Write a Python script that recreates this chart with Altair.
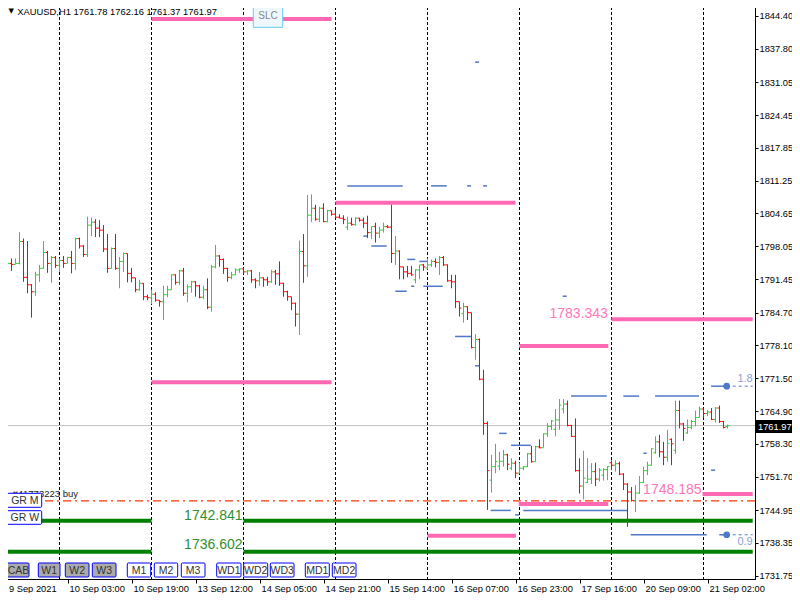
import altair as alt
import pandas as pd

# ---------------- data ----------------
OPEN = [1791.9, 1792.2, 1794.6, 1794.4, 1794.6, 1799.0, 1791.8, 1790.3, 1788.9, 1792.3,
        1793.6, 1796.8, 1794.6, 1795.8, 1794.2, 1795.2, 1794.6, 1795.8, 1794.6, 1799.6,
        1798.1, 1796.4, 1802.3, 1802.9, 1801.7, 1801.3, 1797.5, 1793.6, 1797.6, 1793.6,
        1795.0, 1796.6, 1792.6, 1791.7, 1789.3, 1790.6, 1787.9, 1787.7, 1788.4, 1787.2,
        1786.9, 1788.3, 1789.3, 1792.3, 1790.8, 1793.1, 1788.6, 1789.9, 1790.9, 1790.1,
        1787.8, 1789.3, 1785.8, 1793.9, 1796.1, 1795.4, 1793.6, 1791.8, 1792.3, 1793.3,
        1793.5, 1792.9, 1793.1, 1791.3, 1791.1, 1791.7, 1791.3, 1790.9, 1792.9, 1792.5,
        1790.6, 1788.9, 1787.9, 1786.6, 1784.4, 1797.0, 1794.1, 1804.3, 1805.7, 1803.5,
        1805.7, 1803.0, 1805.2, 1804.5, 1803.9, 1803.7, 1801.9, 1802.7, 1802.4, 1803.7,
        1803.3, 1802.7, 1800.8, 1802.0, 1800.7, 1801.3, 1802.0, 1801.9, 1796.6, 1797.1,
        1793.9, 1792.9, 1792.6, 1791.3, 1793.3, 1794.3, 1793.7, 1794.3, 1795.0, 1794.8,
        1795.8, 1794.3, 1791.1, 1790.9, 1786.9, 1784.5, 1785.9, 1784.7, 1777.7, 1779.3,
        1771.3, 1762.4, 1751.0, 1753.7, 1753.8, 1754.8, 1756.1, 1753.4, 1754.4, 1752.4,
        1753.4, 1753.7, 1756.3, 1754.7, 1757.7, 1757.5, 1760.3, 1761.8, 1761.2, 1763.1,
        1765.3, 1766.3, 1762.0, 1759.8, 1752.9, 1749.8, 1750.5, 1751.2, 1752.7, 1751.2,
        1752.0, 1753.1, 1754.5, 1754.0, 1754.3, 1752.2, 1750.2, 1748.6, 1746.9, 1748.4,
        1750.5, 1752.9, 1754.0, 1756.5, 1758.7, 1756.7, 1755.6, 1759.2, 1757.0, 1765.0,
        1762.3, 1760.5, 1761.6, 1762.8, 1763.6, 1765.3, 1764.4, 1764.7, 1763.2, 1765.5,
        1762.8, 1761.78]
HIGH = [1792.9, 1795.3, 1795.6, 1795.6, 1800.9, 1799.6, 1799.1, 1790.4, 1792.9, 1794.3,
        1799.1, 1797.1, 1796.1, 1796.1, 1795.6, 1796.1, 1795.9, 1797.1, 1799.8, 1799.8,
        1798.3, 1804.0, 1803.8, 1803.5, 1803.3, 1802.3, 1800.5, 1797.8, 1800.5, 1795.9,
        1796.8, 1796.6, 1793.7, 1791.7, 1791.3, 1790.6, 1788.3, 1789.3, 1788.8, 1787.2,
        1790.1, 1790.1, 1792.4, 1792.4, 1793.3, 1793.7, 1790.4, 1791.1, 1791.0, 1790.3,
        1790.1, 1791.6, 1794.3, 1798.3, 1796.3, 1795.6, 1793.7, 1792.9, 1793.6, 1793.6,
        1793.7, 1793.3, 1793.3, 1791.6, 1792.9, 1791.8, 1791.9, 1793.3, 1793.3, 1795.0,
        1790.7, 1789.1, 1787.9, 1786.7, 1799.2, 1800.5, 1808.4, 1808.5, 1806.4, 1806.0,
        1806.7, 1805.4, 1805.2, 1805.4, 1804.5, 1804.3, 1804.0, 1803.8, 1803.9, 1803.8,
        1803.8, 1804.2, 1802.0, 1802.8, 1802.0, 1802.8, 1802.3, 1806.4, 1800.1, 1797.2,
        1793.9, 1794.1, 1794.1, 1793.4, 1794.3, 1794.5, 1795.6, 1795.4, 1795.6, 1796.1,
        1796.1, 1794.4, 1792.3, 1792.3, 1786.9, 1786.7, 1786.0, 1784.7, 1780.4, 1779.5,
        1773.2, 1762.8, 1756.1, 1758.3, 1756.7, 1757.1, 1756.3, 1755.4, 1754.9, 1754.5,
        1753.8, 1756.4, 1757.9, 1757.9, 1759.2, 1760.4, 1762.5, 1763.1, 1765.3, 1767.3,
        1767.3, 1767.0, 1762.1, 1763.4, 1755.4, 1756.9, 1755.4, 1754.4, 1754.5, 1753.4,
        1753.4, 1753.8, 1755.0, 1755.0, 1754.7, 1752.4, 1750.4, 1749.6, 1750.0, 1751.8,
        1753.7, 1754.7, 1757.4, 1759.8, 1760.1, 1758.7, 1761.1, 1759.4, 1767.0, 1767.0,
        1762.5, 1763.2, 1763.1, 1765.0, 1765.8, 1765.4, 1765.1, 1765.5, 1765.7, 1766.0,
        1762.9, 1762.16]
LOW = [1787.7, 1791.9, 1793.1, 1794.4, 1794.4, 1790.9, 1788.6, 1783.7, 1788.1, 1790.9,
       1793.6, 1792.7, 1790.7, 1793.7, 1792.9, 1793.7, 1794.6, 1792.6, 1793.3, 1797.6,
       1795.9, 1795.9, 1800.1, 1799.9, 1799.9, 1796.9, 1792.7, 1793.6, 1793.3, 1789.6,
       1792.9, 1790.8, 1790.8, 1788.8, 1789.1, 1787.2, 1787.2, 1786.4, 1786.9, 1785.9,
       1783.2, 1787.8, 1789.3, 1790.3, 1790.3, 1788.1, 1786.8, 1788.7, 1787.9, 1787.6,
       1787.4, 1785.4, 1784.9, 1793.6, 1793.9, 1792.5, 1790.9, 1791.4, 1792.3, 1792.7,
       1792.5, 1792.3, 1790.7, 1789.6, 1790.1, 1789.9, 1790.1, 1790.7, 1790.3, 1790.1,
       1787.9, 1787.1, 1785.2, 1781.9, 1780.2, 1790.7, 1791.9, 1802.9, 1803.2, 1802.9,
       1802.9, 1802.9, 1804.2, 1803.7, 1803.7, 1802.5, 1801.3, 1802.2, 1802.2, 1803.0,
       1801.7, 1799.7, 1799.5, 1798.8, 1799.7, 1800.8, 1801.7, 1794.7, 1794.3, 1791.4,
       1791.4, 1791.8, 1792.1, 1790.6, 1791.4, 1793.1, 1793.4, 1793.9, 1793.8, 1792.3,
       1794.1, 1790.9, 1789.6, 1785.6, 1783.9, 1782.7, 1783.2, 1777.5, 1775.2, 1771.1,
       1760.1, 1745.0, 1748.5, 1752.4, 1753.0, 1753.7, 1753.0, 1753.0, 1751.4, 1752.3,
       1753.0, 1753.6, 1754.5, 1754.7, 1757.4, 1757.5, 1759.7, 1761.1, 1759.8, 1761.1,
       1764.4, 1761.8, 1759.7, 1752.7, 1748.3, 1747.1, 1750.4, 1750.2, 1749.8, 1750.7,
       1750.9, 1751.0, 1753.0, 1752.7, 1752.0, 1749.0, 1741.6, 1746.7, 1744.6, 1748.2,
       1750.4, 1752.0, 1753.9, 1756.3, 1755.6, 1754.0, 1754.7, 1754.0, 1756.3, 1761.4,
       1758.9, 1760.3, 1761.2, 1761.8, 1763.6, 1763.6, 1763.9, 1763.1, 1762.6, 1762.5,
       1761.4, 1761.37]
CLOSE = [1792.2, 1794.6, 1794.4, 1794.6, 1799.0, 1791.8, 1790.3, 1788.9, 1792.3, 1793.6,
         1796.8, 1794.6, 1795.8, 1794.2, 1795.2, 1794.6, 1795.8, 1794.6, 1799.6, 1798.1,
         1796.4, 1802.3, 1802.9, 1801.7, 1801.3, 1797.5, 1793.6, 1797.6, 1793.6, 1795.0,
         1796.6, 1792.6, 1791.7, 1789.3, 1790.6, 1787.9, 1787.7, 1788.4, 1787.2, 1786.9,
         1788.3, 1789.3, 1792.3, 1790.8, 1793.1, 1788.6, 1789.9, 1790.9, 1790.1, 1787.8,
         1789.3, 1785.8, 1793.9, 1796.1, 1795.4, 1793.6, 1791.8, 1792.3, 1793.3, 1793.5,
         1792.9, 1793.1, 1791.3, 1791.1, 1791.7, 1791.3, 1790.9, 1792.9, 1792.5, 1790.6,
         1788.9, 1787.9, 1786.6, 1784.4, 1797.0, 1794.1, 1804.3, 1805.7, 1803.5, 1805.7,
         1803.0, 1805.2, 1804.5, 1803.9, 1803.7, 1803.4, 1802.7, 1802.4, 1803.7, 1803.3,
         1802.7, 1800.8, 1802.0, 1800.7, 1801.3, 1802.0, 1801.9, 1796.6, 1797.1, 1793.9,
         1792.9, 1792.6, 1792.3, 1793.3, 1794.3, 1793.9, 1794.3, 1795.0, 1794.8, 1795.8,
         1794.3, 1791.1, 1790.9, 1786.9, 1785.6, 1785.9, 1784.7, 1777.7, 1779.3, 1771.3,
         1762.4, 1752.9, 1753.7, 1754.7, 1754.8, 1756.1, 1754.2, 1754.4, 1752.4, 1753.4,
         1753.7, 1756.3, 1754.7, 1757.7, 1757.5, 1760.3, 1761.8, 1762.9, 1763.1, 1766.1,
         1766.3, 1762.0, 1759.8, 1752.9, 1749.8, 1751.4, 1751.2, 1752.7, 1751.2, 1753.0,
         1753.1, 1753.7, 1754.0, 1754.3, 1752.2, 1750.2, 1748.6, 1746.9, 1748.4, 1750.5,
         1752.9, 1754.0, 1757.3, 1758.7, 1756.7, 1755.6, 1758.4, 1758.3, 1765.0, 1762.3,
         1761.4, 1761.6, 1762.8, 1763.6, 1765.3, 1764.4, 1764.7, 1763.2, 1765.5, 1762.8,
         1761.6, 1761.97]

X_TICK_BARS = [0, 16, 32, 48, 64, 80, 96, 112, 128, 144, 160, 176]
X_LABELS = ["9 Sep 2021", "10 Sep 03:00", "10 Sep 19:00", "13 Sep 12:00", "14 Sep 05:00",
            "14 Sep 21:00", "15 Sep 14:00", "16 Sep 07:00", "16 Sep 23:00", "17 Sep 16:00",
            "20 Sep 09:00", "21 Sep 02:00"]
Y_TICKS = [1844.40, 1837.80, 1831.05, 1824.45, 1817.85, 1811.25, 1804.65, 1798.05, 1791.45,
           1784.70, 1778.10, 1771.50, 1764.90, 1758.30, 1751.70, 1744.95, 1738.35, 1731.75]
DAY_SEPARATORS = [14, 37, 60, 83, 106, 129, 152, 175]

PINK_START = [37, 83, 37, 129, 152, 128.8, 106, 174.75]
PINK_END = [82, 128, 82, 151.2, 187.3, 151.2, 128.1, 187.3]
PINK_PRICE = [1843.8, 1806.8, 1770.7, 1778.0, 1783.343, 1746.2, 1739.8, 1748.185]

GREEN_START = [-0.375, 60, -0.375, 60]
GREEN_END = [37, 187.3, 37, 187.3]
GREEN_PRICE = [1742.841, 1742.841, 1736.602, 1736.602]

BLUE_START = [117.9, 85.95, 106.9, 115.9, 119.9, 89.95, 91.95, 100.95, 103.95, 97.95, 101.9,
              104.95, 112.9, 117.9, 123.9, 126.9, 121.8, 127.9, 129.95, 156.8, 139.8, 141.9,
              154.95, 162.9, 159.95, 176.9, 176.9, 178.95]
BLUE_END = [118.9, 99.8, 110.8, 116.9, 120.9, 90.95, 95.8, 102.95, 105.95, 100.8, 102.7,
            109.8, 116.9, 118.9, 125.8, 131.8, 126.8, 128.9, 155.95, 175.8, 140.8, 150.8,
            158.9, 173.9, 160.8, 177.9, 180.8, 180.8]
BLUE_PRICE = [1835.1, 1810.2, 1810.2, 1810.2, 1810.2, 1800.1, 1798.1, 1795.4, 1795.0, 1789.0,
              1790.0, 1790.0, 1779.9, 1774.0, 1760.4, 1758.0, 1744.9, 1744.0, 1744.9, 1740.0,
              1788.0, 1767.9, 1767.9, 1767.9, 1756.4, 1753.0, 1769.9, 1740.0]

MARKER_BAR = [180.8, 180.8]
MARKER_END = [187.3, 187.3]
MARKER_PRICE = [1769.9, 1740.0]
MARKER_TEXT = ["1.8", "0.9"]
MARKER_TEXT_PRICE = [1771.3, 1738.5]

ORDER_PRICE = 1746.8
CURRENT_PRICE = 1761.97
TITLE_TEXT = "XAUUSD,H1  1761.78 1762.16 1761.37 1761.97"

PINK_LABELS = ["1783.343", "1748.185"]
GREEN_LABELS = ["1742.841", "1736.602"]

BUTTONS = ["CAB", "W1", "W2", "W3", "M1", "M2", "M3", "WD1", "WD2", "WD3", "MD1", "MD2"]

# ---------------- layout ----------------
FONT = "Liberation Sans"
xs = alt.Scale(domain=[-0.375, 187.875], nice=False, zero=False)
ys = alt.Scale(domain=[1731.1, 1847.2], nice=False, zero=False)

labels_js = "[" + ",".join("'" + s + "'" for s in X_LABELS) + "]"
xaxis = alt.Axis(values=X_TICK_BARS, labelExpr=labels_js + "[round(datum.value/16)]",
                 labelAlign="left",
                 labelOffset={"condition": {"test": "datum.value === 0", "value": 5}, "value": 1.5},
                 labelPadding=1, tickSize=4,
                 tickColor="black", domainColor="black", labelColor="black",
                 labelFont=FONT, labelFontSize=9.3, grid=False, title=None,
                 labelFlush=False, labelOverlap=False, labelBound=False)
yaxis = alt.Axis(orient="right", values=Y_TICKS, format=".2f", labelPadding=1, tickSize=3,
                 tickColor="black", domainColor="black", labelColor="black",
                 labelFont=FONT, labelFontSize=9.3, grid=False, title=None,
                 labelFlush=False, labelOverlap=False, labelBaseline="middle")


def X(f):
    return alt.X(f, scale=xs, axis=xaxis)


def Y(f):
    return alt.Y(f, scale=ys, axis=yaxis)


# separators
sep = alt.Chart(pd.DataFrame({"k": DAY_SEPARATORS})).mark_rule(
    color="black", strokeDash=[3, 2], strokeWidth=1).encode(x=X("k:Q"))

# horizontal full-width lines
cur_line = alt.Chart(pd.DataFrame({"p": [CURRENT_PRICE]})).mark_rule(
    color="#C0C0C0", strokeWidth=1).encode(y=Y("p:Q"))
order_line = alt.Chart(pd.DataFrame({"p": [ORDER_PRICE]})).mark_rule(
    color="#FF3300", strokeWidth=1.2, strokeDash=[8, 4, 2, 4]).encode(y=Y("p:Q"))


def segs(start, end, price):
    return pd.DataFrame({"a": start, "b": end, "p": price})


green = alt.Chart(segs(GREEN_START, GREEN_END, GREEN_PRICE)).mark_rule(
    color="#008000", strokeWidth=4).encode(x=X("a:Q"), x2="b:Q", y=Y("p:Q"))
pink = alt.Chart(segs(PINK_START, PINK_END, PINK_PRICE)).mark_rule(
    color="#FF69B4", strokeWidth=4).encode(x=X("a:Q"), x2="b:Q", y=Y("p:Q"))
blue = alt.Chart(segs(BLUE_START, BLUE_END, BLUE_PRICE)).mark_rule(
    color="#4F78C8", strokeWidth=1.5).encode(x=X("a:Q"), x2="b:Q", y=Y("p:Q"))
blue_dash = alt.Chart(segs(MARKER_BAR, MARKER_END, MARKER_PRICE)).mark_rule(
    color="#4F78C8", strokeWidth=1, strokeDash=[3, 3]).encode(x=X("a:Q"), x2="b:Q", y=Y("p:Q"))
dots = alt.Chart(pd.DataFrame({"k": MARKER_BAR, "p": MARKER_PRICE})).mark_circle(
    color="#4F78C8", size=45, opacity=1).encode(x=X("k:Q"), y=Y("p:Q"))
marker_txt = alt.Chart(pd.DataFrame({"k": MARKER_END, "p": MARKER_TEXT_PRICE, "t": MARKER_TEXT})
                       ).mark_text(
    align="right", baseline="middle", color="#8C9FD6", font=FONT, fontSize=11, dx=0
).encode(x=X("k:Q"), y=Y("p:Q"), text="t:N")

# OHLC bars
bars_df = pd.DataFrame({"k": list(range(len(OPEN))), "o": OPEN, "h": HIGH, "l": LOW, "c": CLOSE})
base = alt.Chart(bars_df).transform_calculate(
    dir="datum.c >= datum.o ? 'up' : 'down'", kl="datum.k - 0.5", kr="datum.k + 0.5")
color = alt.Color("dir:N", scale=alt.Scale(domain=["up", "down"], range=["#32CD32", "#FF0000"]),
                  legend=None)
wick = base.mark_rule(strokeWidth=1).encode(x=X("k:Q"), y=Y("l:Q"), y2="h:Q", color=color)
otick = base.mark_rule(strokeWidth=1).encode(x=X("kl:Q"), x2="k:Q", y=Y("o:Q"), color=color)
ctick = base.mark_rule(strokeWidth=1).encode(x=X("k:Q"), x2="kr:Q", y=Y("c:Q"), color=color)

# value labels
pink_txt = alt.Chart(pd.DataFrame({"k": [151.1, 174.5], "p": [1784.4, 1749.1], "t": PINK_LABELS})
                     ).mark_text(align="right", baseline="middle", color="#FF77B8",
                                 font=FONT, fontSize=14).encode(x=X("k:Q"), y=Y("p:Q"), text="t:N")
green_txt = alt.Chart(pd.DataFrame({"k": [59.75, 59.75], "p": [1743.8, 1737.9], "t": GREEN_LABELS})
                      ).mark_text(align="right", baseline="middle", color="#2F8F2F",
                                  font=FONT, fontSize=14).encode(x=X("k:Q"), y=Y("p:Q"), text="t:N")

# ---------------- pixel-positioned UI elements ----------------
btn_df = pd.DataFrame({
    "t": BUTTONS,
    "x0": [3, 36.3, 63.3, 90.3, 125.3, 152.3, 179.3, 214.7, 241.7, 268.3, 303.3, 330.3],
    "x1": [27, 58, 87, 114, 148.7, 175.7, 203, 239, 265.7, 292, 327.3, 354],
    "fill": ["g", "g", "g", "g", "w", "w", "w", "w", "w", "w", "w", "w"],
    "dx": [1.5, 0, 0, 0, 0, 0, 0, 0, 0, 0, 0, 0],
})
btn_df["y0"] = 561
btn_df["y1"] = 575
gr_df = pd.DataFrame({"t": ["GR M", "GR W"], "x0": [3, 3], "x1": [39.7, 39.7],
                      "y0": [491.3, 508.7], "y1": [505.3, 522.3], "fill": ["w", "w"],
                      "dx": [1.5, 1.5]})
all_btn = pd.concat([btn_df, gr_df], ignore_index=True)


def PX(f):
    return alt.X(f, scale=None, axis=None)


def PY(f):
    return alt.Y(f, scale=None, axis=None)


order_txt = alt.Chart(pd.DataFrame({"x": [76], "y": [492], "t": ["#41773223 buy"]})).mark_text(
    align="right", baseline="middle", font=FONT, fontSize=9.5, color="#222222"
).encode(x=PX("x:Q"), y=PY("y:Q"), text="t:N")

btn_rect = alt.Chart(all_btn).mark_rect(stroke="#0000FF", strokeWidth=1, cornerRadius=1).encode(
    x=PX("x0:Q"), x2="x1:Q", y=PY("y0:Q"), y2="y1:Q",
    fill=alt.Fill("fill:N", scale=alt.Scale(domain=["g", "w"], range=["#ABABAB", "#FFFFFF"]),
                  legend=None))
btn_txt = alt.Chart(all_btn).transform_calculate(
    cx="(datum.x0 + datum.x1) / 2 + datum.dx", cy="(datum.y0 + datum.y1) / 2 + 0.5").mark_text(
    align="center", baseline="middle", font=FONT, fontSize=10.5, color="#333333"
).encode(x=PX("cx:Q"), y=PY("cy:Q"), text="t:N")

slc_rect = alt.Chart(pd.DataFrame({"x0": [251.3], "x1": [280.7], "y0": [1.3], "y1": [25.3]})
                     ).mark_rect(fill="#EEF7FC", stroke="#66CCEE", strokeWidth=1).encode(
    x=PX("x0:Q"), x2="x1:Q", y=PY("y0:Q"), y2="y1:Q")
slc_txt = alt.Chart(pd.DataFrame({"x": [266], "y": [14], "t": ["SLC"]})).mark_text(
    align="center", baseline="middle", font=FONT, fontSize=10, color="#888888"
).encode(x=PX("x:Q"), y=PY("y:Q"), text="t:N")

tri = alt.Chart(pd.DataFrame({"x": [6.5], "y": [9], "t": ["▼"]})).mark_text(
    align="left", baseline="middle", font="DejaVu Sans", fontSize=7, color="black"
).encode(x=PX("x:Q"), y=PY("y:Q"), text="t:N")
title_txt = alt.Chart(pd.DataFrame({"x": [15.3], "y": [9.5], "t": [TITLE_TEXT]})).mark_text(
    align="left", baseline="middle", font=FONT, fontSize=9.4, color="black"
).encode(x=PX("x:Q"), y=PY("y:Q"), text="t:N")

price_box = alt.Chart(pd.DataFrame({"x0": [753], "x1": [790], "y0": [418], "y1": [431]})
                      ).mark_rect(fill="black").encode(
    x=PX("x0:Q"), x2="x1:Q", y=PY("y0:Q"), y2="y1:Q")
price_txt = alt.Chart(pd.DataFrame({"x": [756], "y": [425], "t": ["1761.97"]})).mark_text(
    align="left", baseline="middle", font=FONT, fontSize=9.3, color="white"
).encode(x=PX("x:Q"), y=PY("y:Q"), text="t:N")

chart = alt.layer(
    sep, cur_line, order_line, green, pink, blue, blue_dash, dots, marker_txt,
    otick, ctick, wick, pink_txt, green_txt,
    order_txt, btn_rect, btn_txt, slc_rect, slc_txt, tri, title_txt, price_box, price_txt
).properties(
    width=753, height=577,
    autosize=alt.AutoSizeParams(type="none"),
    padding={"left": -6, "top": -6, "right": 37, "bottom": 14},
    background="white",
).configure_view(stroke="black", strokeWidth=1)

chart.save("out.html", embed_options={"renderer": "svg", "actions": False})
